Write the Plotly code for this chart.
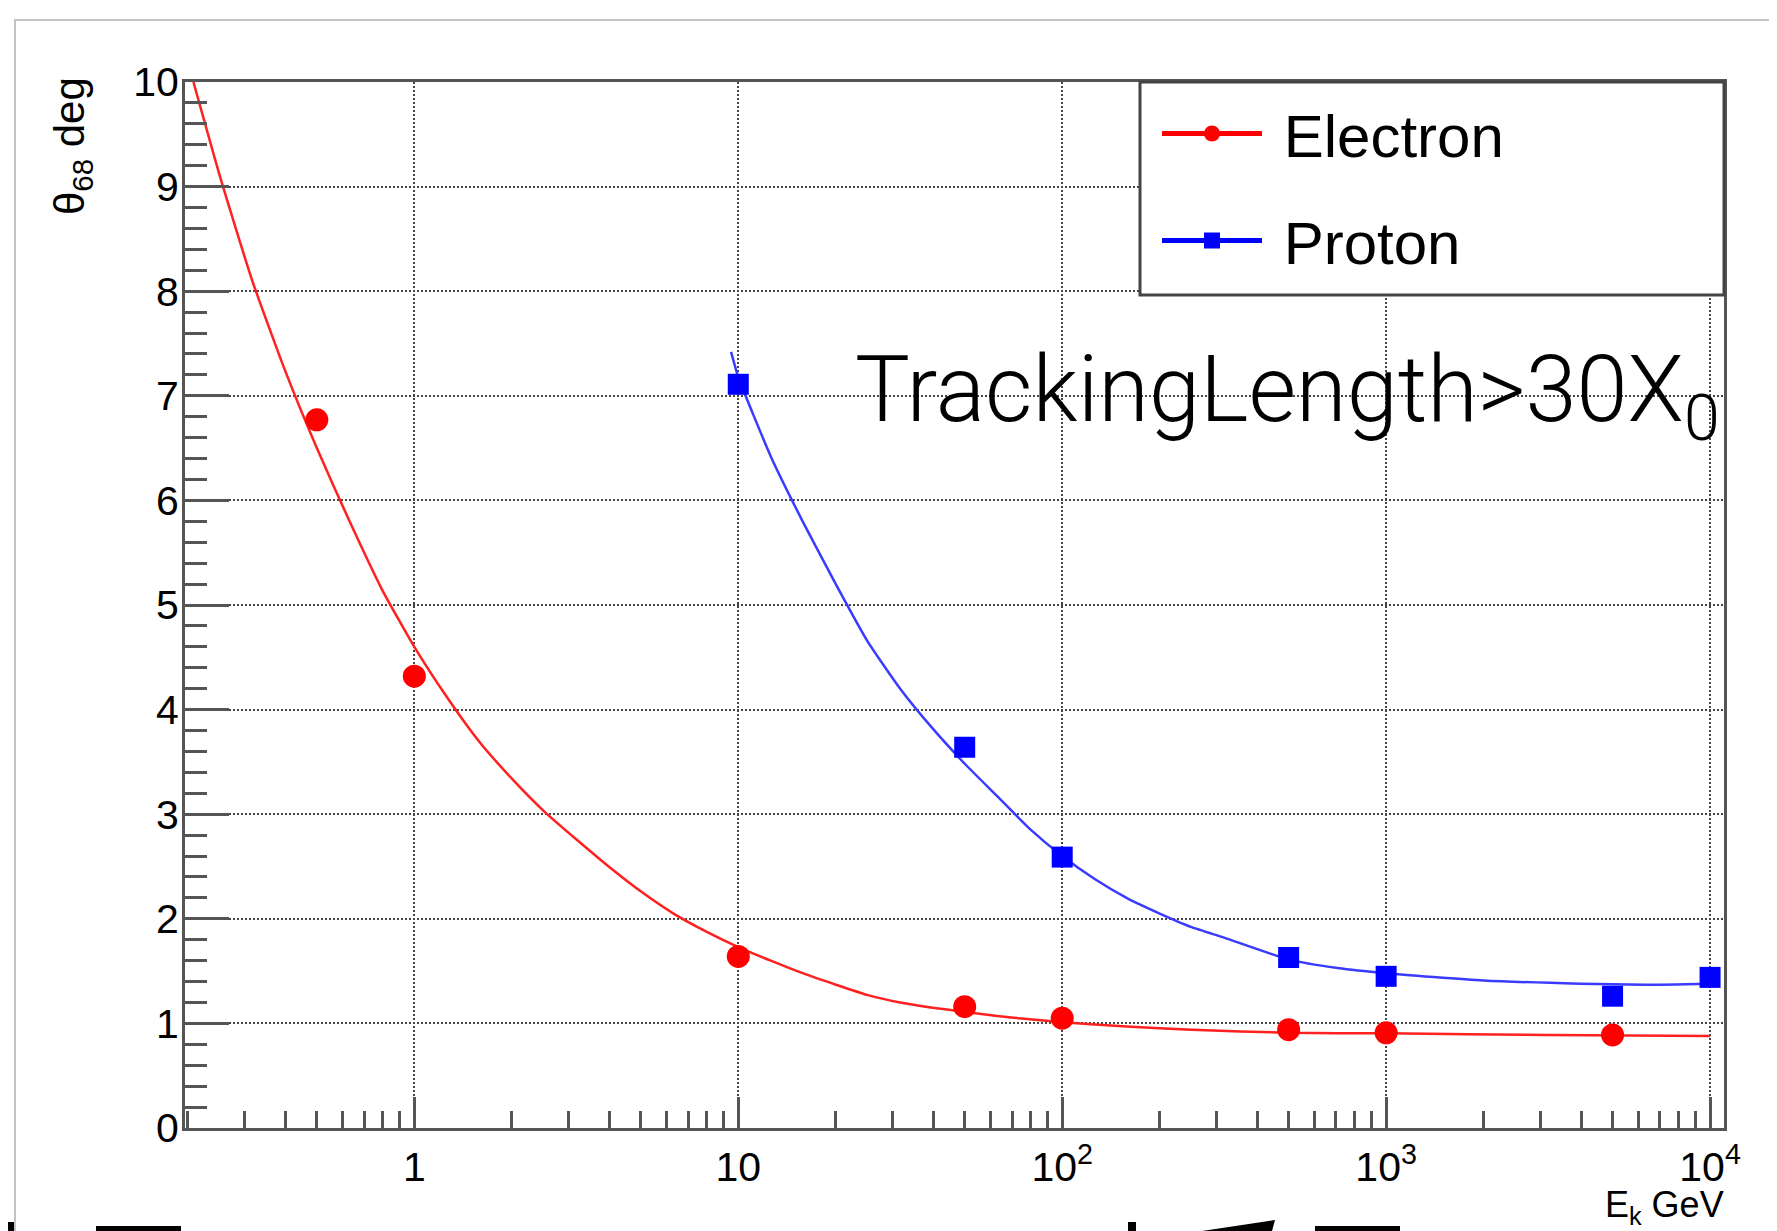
import plotly.graph_objects as go

# ---------------- data ----------------
e_energy = [0.5, 1, 10, 50, 100, 500, 1000, 5000]
e_theta = [6.77, 4.32, 1.64, 1.16, 1.05, 0.94, 0.91, 0.89]

p_energy = [10, 50, 100, 500, 1000, 5000, 10000]
p_theta = [7.11, 3.64, 2.59, 1.63, 1.45, 1.26, 1.44]

# fitted curves
e_fit_energy = [0.208, 0.251, 0.316, 0.398, 0.5, 0.631, 0.794, 1.0, 1.26, 1.58, 2.0, 2.51,
                3.16, 3.98, 5.01, 6.31, 7.94, 10, 12.6, 15.8, 20, 25.1, 31.6, 39.8, 50.1,
                63.1, 79.4, 100, 158, 251, 501, 1000, 3162, 10000]
e_fit_theta = [10.0, 9.1, 8.1, 7.25, 6.5, 5.8, 5.15, 4.6, 4.12, 3.7, 3.34, 3.03,
               2.76, 2.5, 2.26, 2.05, 1.88, 1.73, 1.6, 1.48, 1.37, 1.27, 1.2, 1.15, 1.11,
               1.07, 1.04, 1.01, 0.97, 0.94, 0.91, 0.905, 0.89, 0.88]

p_fit_energy = [9.5, 10, 12.6, 15.8, 20, 25.1, 31.6, 39.8, 50.1, 63.1, 79.4, 100, 126, 158,
                200, 251, 316, 501, 708, 1000, 1995, 3981, 6310, 10000]
p_fit_theta = [7.42, 7.18, 6.42, 5.8, 5.2, 4.65, 4.2, 3.82, 3.48, 3.17, 2.86, 2.6, 2.38, 2.2,
               2.05, 1.92, 1.82, 1.61, 1.53, 1.48, 1.41, 1.38, 1.37, 1.38]

x_tick_vals = [1, 10, 100, 1000, 10000]
x_tick_text = ["1", "10", "10<sup>2</sup>", "10<sup>3</sup>", "10<sup>4</sup>"]

series_names = ["Electron", "Proton"]
annotation_text = "TrackingLength>30X<sub>0</sub>"
y_title = "θ<sub>68</sub> deg"
x_title = "E<sub>k</sub> GeV"

# ---------------- figure ----------------
OFF = 8                      # page margin of the html body
W, H = 1777 - OFF, 1231 - OFF
# plot area in page pixels: x 185..1724, y 82..1128
ML, MT = 185 - OFF, 82 - OFF
MR = W - (1724 - OFF)
MB = H - (1128 - OFF)
PW, PH = W - ML - MR, H - MT - MB


def px2paper(px, py):
    """page pixel -> paper coordinates"""
    fx, fy = px - OFF, py - OFF
    return (fx - ML) / PW, (H - MB - fy) / PH


AX = "#555555"
FONT = "Liberation Sans, Arial, Helvetica, sans-serif"

fig = go.Figure()

# fitted curves
fig.add_trace(go.Scatter(x=e_fit_energy, y=e_fit_theta, mode="lines",
                         line=dict(color="#ff2020", width=2.5, shape="spline", smoothing=0.5),
                         showlegend=False, hoverinfo="skip"))
fig.add_trace(go.Scatter(x=p_fit_energy, y=p_fit_theta, mode="lines",
                         line=dict(color="#3b3bff", width=2.5, shape="spline", smoothing=0.5),
                         showlegend=False, hoverinfo="skip"))

# data points
fig.add_trace(go.Scatter(x=e_energy, y=e_theta, mode="markers",
                         marker=dict(symbol="circle", size=23, color="#ff0000"),
                         showlegend=False, name=series_names[0]))
fig.add_trace(go.Scatter(x=p_energy, y=p_theta, mode="markers",
                         marker=dict(symbol="square", size=21, color="#0000ff"),
                         showlegend=False, name=series_names[1]))

# legend entries (line + marker, as in the original legend)
fig.add_trace(go.Scatter(x=[None], y=[None], mode="lines+markers",
                         name="\u00a0" + series_names[0],
                         line=dict(color="#ff0000", width=5),
                         marker=dict(symbol="circle", size=16, color="#ff0000"),
                         legendgroup="e"))
fig.add_trace(go.Scatter(x=[None], y=[None], mode="lines+markers",
                         name="\u00a0" + series_names[1],
                         line=dict(color="#0000ff", width=5),
                         marker=dict(symbol="square", size=16, color="#0000ff"),
                         legendgroup="p"))

fig.update_xaxes(
    type="log", range=[-0.708, 4.043],
    tickvals=x_tick_vals, ticktext=x_tick_text,
    ticks="inside", ticklen=31, tickwidth=3, tickcolor=AX,
    showline=True, linecolor=AX, linewidth=3, mirror=True,
    showgrid=True, gridcolor="#444444", gridwidth=1.5, griddash="1.5px,2.5px",
    zeroline=False,
    minor=dict(dtick="D1", ticks="inside", ticklen=17, tickwidth=3, tickcolor=AX, showgrid=False),
    tickfont=dict(family=FONT, size=41, color="black"),
    ticklabelstandoff=1,
)
fig.update_yaxes(
    range=[0, 10], dtick=1, tick0=0,
    ticks="inside", ticklen=44, tickwidth=3, tickcolor=AX,
    showline=True, linecolor=AX, linewidth=3, mirror=True,
    showgrid=True, gridcolor="#444444", gridwidth=1.5, griddash="1.5px,2.5px",
    zeroline=False,
    minor=dict(dtick=0.2, ticks="inside", ticklen=22, tickwidth=3, tickcolor=AX, showgrid=False),
    tickfont=dict(family=FONT, size=41, color="black"),
    ticklabelstandoff=-5,
)

shapes = []
# outer canvas frame (light gray)
fx0, fy0 = px2paper(15, 20)
fx1, fy1 = px2paper(1800, 1260)
shapes.append(dict(type="rect", xref="paper", yref="paper", x0=fx0, y0=fy1, x1=fx1, y1=fy0,
                   line=dict(color="#c4c4c4", width=2), fillcolor="rgba(0,0,0,0)", layer="below"))
# legend box
lx0, ly0 = px2paper(1140, 295)
shapes.append(dict(type="rect", xref="paper", yref="paper", x0=lx0, y0=ly0, x1=1, y1=1,
                   line=dict(color="#444444", width=3), fillcolor="white", layer="above"))
# cut-off fragments of slide text at the bottom edge
for (a, b, c, d) in [(6, 1222, 14, 1231), (96, 1226, 181, 1231), (1128, 1222, 1136, 1231),
                     (1315, 1226, 1400, 1231)]:
    x0, y0 = px2paper(a, b)
    x1, y1 = px2paper(c, d)
    shapes.append(dict(type="rect", xref="paper", yref="paper", x0=x0, y0=y1, x1=x1, y1=y0,
                       line=dict(width=0), fillcolor="black", layer="above"))
wx0, wy0 = px2paper(1202, 1231)
wx1, wy1 = px2paper(1275, 1220)
wx2, wy2 = px2paper(1272, 1231)
shapes.append(dict(type="path", xref="paper", yref="paper",
                   path=f"M {wx0},{wy0} L {wx1},{wy1} L {wx2},{wy2} Z",
                   line=dict(width=0), fillcolor="black", layer="above"))

yt_x, yt_y = px2paper(72, 146)
xt_x, xt_y = px2paper(1726, 1207)
tl_x, _ = px2paper(853, 0)

annotations = [
    dict(text=y_title, xref="paper", yref="paper", x=yt_x, y=yt_y, textangle=-90,
         xanchor="center", yanchor="middle", showarrow=False,
         font=dict(family=FONT, size=42, color="black")),
    dict(text=x_title, xref="paper", yref="paper", x=xt_x, y=xt_y,
         xanchor="right", yanchor="middle", showarrow=False,
         font=dict(family=FONT, size=36, color="black")),
    dict(text=annotation_text, xref="paper", yref="y", x=tl_x, y=7.0,
         xanchor="left", yanchor="middle", showarrow=False,
         font=dict(family="Roboto, Liberation Sans, sans-serif", size=92, color="black", weight=300)),
]

leg_x, leg_y = px2paper(1157, 88)
fig.update_layout(
    width=W, height=H,
    margin=dict(l=ML, r=MR, t=MT, b=MB, pad=0),
    paper_bgcolor="white", plot_bgcolor="white",
    font=dict(family=FONT, color="black"),
    showlegend=True,
    legend=dict(x=leg_x, y=leg_y, xanchor="left", yanchor="top",
                bgcolor="rgba(0,0,0,0)", borderwidth=0,
                font=dict(family=FONT, size=60, color="black"),
                itemwidth=100, tracegroupgap=26, traceorder="grouped"),
    shapes=shapes,
    annotations=annotations,
)

fig.write_html("out.html")
